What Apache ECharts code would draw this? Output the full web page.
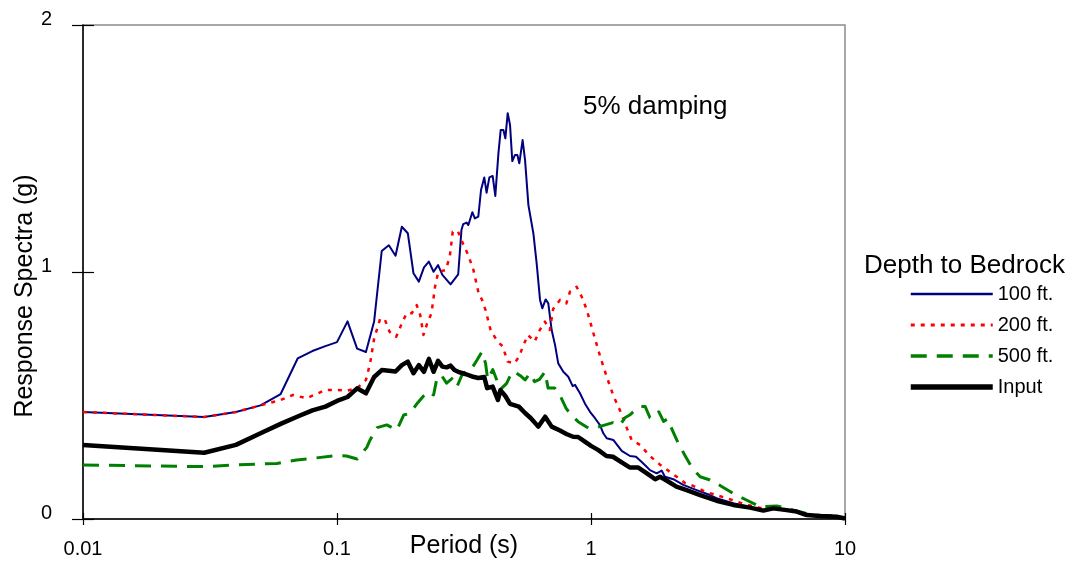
<!DOCTYPE html>
<html>
<head>
<meta charset="utf-8">
<script src="https://cdn.jsdelivr.net/npm/echarts@6/dist/echarts.min.js"></script>
<style>html,body{margin:0;padding:0;background:#fff}#c{width:1078px;height:565px}</style>
</head>
<body>
<div id="c"></div>
<script>
// Period (s) and spectral acceleration (g)
var t100 = [0.01,0.03,0.04,0.05,0.06,0.07,0.08,0.09,0.10,0.11,0.12,0.13,0.14,0.15,0.16,0.17,0.18,0.19,0.20,0.21,0.22,0.23,0.24,0.25,0.26,0.28,0.30,0.309,0.314,0.324,0.329,0.341,0.349,0.360,0.369,0.380,0.388,0.398,0.410,0.420,0.432,0.441,0.452,0.46,0.47,0.48,0.49,0.502,0.513,0.522,0.538,0.550,0.567,0.593,0.611,0.630,0.643,0.663,0.679,0.70,0.722,0.743,0.778,0.814,0.847,0.865,0.905,0.946,0.991,1.037,1.085,1.118,1.153,1.224,1.321,1.424,1.504,1.607,1.707,1.814,1.897,1.955,2.109,2.308,2.606,2.94,3.12,3.63,4.23,4.77,5.22,5.89,6.45,7.07,7.97,9.27,10];
var sa100 = [0.433,0.413,0.433,0.46,0.506,0.65,0.68,0.70,0.716,0.80,0.69,0.676,0.80,1.085,1.108,1.066,1.183,1.157,0.995,0.961,1.019,1.042,1.001,1.028,0.988,0.95,0.99,1.17,1.194,1.20,1.19,1.242,1.217,1.224,1.332,1.383,1.321,1.383,1.389,1.308,1.48,1.575,1.575,1.541,1.643,1.595,1.449,1.474,1.474,1.44,1.534,1.453,1.271,1.157,1.035,0.887,0.853,0.889,0.873,0.765,0.704,0.63,0.596,0.576,0.538,0.543,0.509,0.468,0.434,0.408,0.38,0.347,0.327,0.32,0.276,0.255,0.252,0.225,0.198,0.185,0.196,0.171,0.161,0.138,0.117,0.097,0.084,0.064,0.048,0.036,0.043,0.036,0.03,0.016,0.012,0.009,0.002];

var t200 = [0.01,0.03,0.04,0.05,0.06,0.067,0.076,0.09,0.10,0.11,0.12,0.13,0.135,0.14,0.148,0.1545,0.161,0.171,0.18,0.188,0.197,0.206,0.2126,0.219,0.2265,0.2355,0.2432,0.2505,0.268,0.278,0.2855,0.2988,0.313,0.3285,0.3445,0.361,0.3725,0.3845,0.4025,0.4285,0.4485,0.47,0.4995,0.5227,0.539,0.5645,0.600,0.6285,0.6585,0.6885,0.7095,0.755,0.80,0.826,0.878,0.9195,0.963,1.0235,1.085,1.153,1.224,1.30,1.381,1.446,1.56,1.707,1.869,2.0,2.18,2.35,2.53,2.82,3.12,3.52,3.97,4.63,5.22,5.89,6.45,7.07,7.97,9.27,10];
var sa200 = [0.433,0.413,0.433,0.46,0.482,0.502,0.489,0.522,0.522,0.52,0.53,0.563,0.63,0.73,0.812,0.806,0.758,0.738,0.792,0.833,0.833,0.866,0.826,0.745,0.792,0.833,0.94,1.001,1.008,1.062,1.163,1.167,1.116,1.069,1.008,0.914,0.887,0.846,0.765,0.718,0.70,0.637,0.63,0.66,0.698,0.745,0.718,0.765,0.799,0.765,0.85,0.887,0.873,0.92,0.94,0.90,0.846,0.75,0.66,0.576,0.50,0.44,0.37,0.32,0.30,0.255,0.22,0.198,0.17,0.145,0.134,0.11,0.097,0.08,0.062,0.045,0.043,0.036,0.03,0.016,0.012,0.009,0.002];

var t500 = [0.01,0.03,0.04,0.058,0.0694,0.0807,0.1,0.109,0.12,0.131,0.135,0.144,0.157,0.172,0.183,0.194,0.2075,0.22,0.229,0.24,0.248,0.2585,0.27,0.2835,0.2965,0.3095,0.3225,0.3375,0.356,0.372,0.3845,0.392,0.4105,0.4255,0.4405,0.4655,0.489,0.5,0.527,0.55,0.575,0.6,0.627,0.6585,0.678,0.72,0.755,0.80,0.851,0.89,0.979,1.06,1.13,1.22,1.30,1.36,1.42,1.49,1.56,1.635,1.707,1.76,1.85,1.93,2.0,2.09,2.2,2.35,2.5,2.69,2.94,3.22,3.62,4.09,4.63,5.38,6.25,7.5,9.27,10];
var sa500 = [0.219,0.212,0.219,0.225,0.239,0.246,0.257,0.255,0.243,0.29,0.32,0.37,0.381,0.36,0.421,0.428,0.47,0.5,0.516,0.502,0.576,0.58,0.55,0.568,0.535,0.58,0.6,0.606,0.644,0.677,0.63,0.565,0.605,0.563,0.525,0.549,0.596,0.596,0.58,0.563,0.59,0.556,0.565,0.596,0.53,0.53,0.5,0.446,0.414,0.394,0.367,0.372,0.38,0.39,0.38,0.41,0.421,0.44,0.455,0.455,0.41,0.41,0.434,0.395,0.405,0.36,0.31,0.255,0.207,0.171,0.158,0.136,0.104,0.077,0.05,0.053,0.036,0.016,0.012,0.005];

var tInput = [0.01,0.03,0.04,0.05,0.06,0.07,0.08,0.09,0.10,0.11,0.12,0.13,0.14,0.15,0.16,0.17,0.18,0.19,0.20,0.21,0.22,0.23,0.24,0.25,0.26,0.27,0.28,0.29,0.30,0.32,0.34,0.36,0.38,0.39,0.41,0.43,0.44,0.46,0.48,0.52,0.55,0.58,0.62,0.66,0.70,0.755,0.80,0.85,0.89,0.946,1.0,1.07,1.15,1.22,1.34,1.42,1.53,1.66,1.79,1.87,1.99,2.17,2.38,2.69,3.12,3.63,4.23,4.77,5.22,5.89,6.45,7.07,7.97,9.27,10];
var saInput = [0.30,0.268,0.30,0.347,0.385,0.415,0.44,0.455,0.478,0.494,0.529,0.509,0.575,0.603,0.60,0.597,0.623,0.637,0.59,0.623,0.596,0.648,0.596,0.64,0.617,0.614,0.621,0.603,0.596,0.587,0.577,0.571,0.575,0.53,0.536,0.482,0.522,0.498,0.466,0.455,0.429,0.408,0.374,0.414,0.374,0.358,0.344,0.333,0.332,0.313,0.296,0.279,0.255,0.252,0.225,0.209,0.209,0.185,0.161,0.171,0.155,0.131,0.117,0.097,0.074,0.057,0.046,0.034,0.043,0.036,0.03,0.016,0.012,0.009,0.002];

var seriesNames = ['100 ft.', '200 ft.', '500 ft.', 'Input'];
var xTickLabels = ['0.01', '0.1', '1', '10'];
var yTickLabels = ['0', '1', '2'];

function pairs(t, s) { var out = []; for (var i = 0; i < Math.min(t.length, s.length); i++) out.push([t[i], s[i]]); return out; }

var FONT = "'Liberation Sans', Arial, sans-serif";
var chart = echarts.init(document.getElementById('c'), null, {renderer: 'canvas'});

var styles = [
  {color: '#000080', width: 2, type: 'solid', legendWidth: 2.5},
  {color: '#ff0000', width: 2.5, type: [4, 6], legendWidth: 3},
  {color: '#008000', width: 3, type: [16, 10], legendWidth: 3.5},
  {color: '#000000', width: 4.5, type: 'solid', legendWidth: 5.5}
];
var dataSets = [pairs(t100, sa100), pairs(t200, sa200), pairs(t500, sa500), pairs(tInput, saInput)];

chart.setOption({
  animation: false,
  backgroundColor: '#fff',
  textStyle: {fontFamily: FONT},
  grid: {left: 83, right: 233, top: 25, bottom: 46, containLabel: false, outerBoundsMode: 'none',
    show: true, borderColor: '#8c8c8c', borderWidth: 1.5, backgroundColor: 'transparent'},
  xAxis: [{
    type: 'log', logBase: 10, min: 0.01, max: 10,
    name: 'Period (s)', nameLocation: 'middle', nameGap: 15, nameMoveOverlap: false,
    nameTextStyle: {fontSize: 25, color: '#000', fontFamily: FONT},
    axisLine: {show: true, lineStyle: {color: '#000', width: 1.5}},
    axisTick: {show: true, length: 6, lineStyle: {color: '#000', width: 1.2}},
    axisLabel: {fontSize: 20, color: '#000', margin: 20, fontFamily: FONT,
      formatter: function (v) { var i = Math.round(Math.log10(v)) + 2; return xTickLabels[i] !== undefined ? xTickLabels[i] : ''; }},
    splitLine: {show: false}
  }, {
    type: 'log', logBase: 10, min: 0.01, max: 10, position: 'bottom',
    axisLine: {show: false}, axisLabel: {show: false}, splitLine: {show: false},
    axisTick: {show: true, inside: true, length: 6, lineStyle: {color: '#000', width: 1.2}}
  }],
  yAxis: [{
    type: 'value', min: 0, max: 2, interval: 1,
    name: 'Response Spectra (g)', nameLocation: 'middle', nameGap: 45, nameRotate: 90, nameMoveOverlap: false,
    nameTextStyle: {fontSize: 25, color: '#000', fontFamily: FONT, padding: [0, 48, 0, 0]},
    axisLine: {show: true, lineStyle: {color: '#000', width: 1.5}},
    axisTick: {show: true, length: 11, lineStyle: {color: '#000', width: 1.2}},
    axisLabel: {fontSize: 20, color: '#000', margin: 31, fontFamily: FONT, verticalAlign: 'bottom', lineHeight: 12,
      formatter: function (v) { return yTickLabels[Math.round(v)]; }},
    splitLine: {show: false}
  }, {
    type: 'value', min: 0, max: 2, interval: 1, position: 'left',
    axisLine: {show: false}, axisLabel: {show: false}, splitLine: {show: false},
    axisTick: {show: true, inside: true, length: 11, lineStyle: {color: '#000', width: 1.2}}
  }],
  legend: {
    orient: 'vertical', left: 908, top: 284, padding: 0,
    itemWidth: 82, itemHeight: 20, itemGap: 11,
    itemStyle: {opacity: 0},
    textStyle: {fontSize: 20, color: '#000', fontFamily: FONT},
    data: seriesNames.map(function (n, i) {
      return {name: n, lineStyle: {width: styles[i].legendWidth}};
    }),
    selectedMode: false
  },
  graphic: [
    {type: 'text', left: 583, top: 94, style: {text: '5% damping', font: '26px ' + FONT, fill: '#000'}},
    {type: 'text', left: 864, top: 253, style: {text: 'Depth to Bedrock', font: '26px ' + FONT, fill: '#000'}}
  ],
  series: seriesNames.map(function (n, i) {
    return {
      name: n, type: 'line', xAxisIndex: 0, yAxisIndex: 0,
      data: dataSets[i], showSymbol: false, symbol: 'none', smooth: false,
      lineStyle: {color: styles[i].color, width: styles[i].width, type: styles[i].type, cap: 'butt', join: 'round'},
      itemStyle: {color: styles[i].color},
      z: 2 + i
    };
  })
});
</script>
</body>
</html>
